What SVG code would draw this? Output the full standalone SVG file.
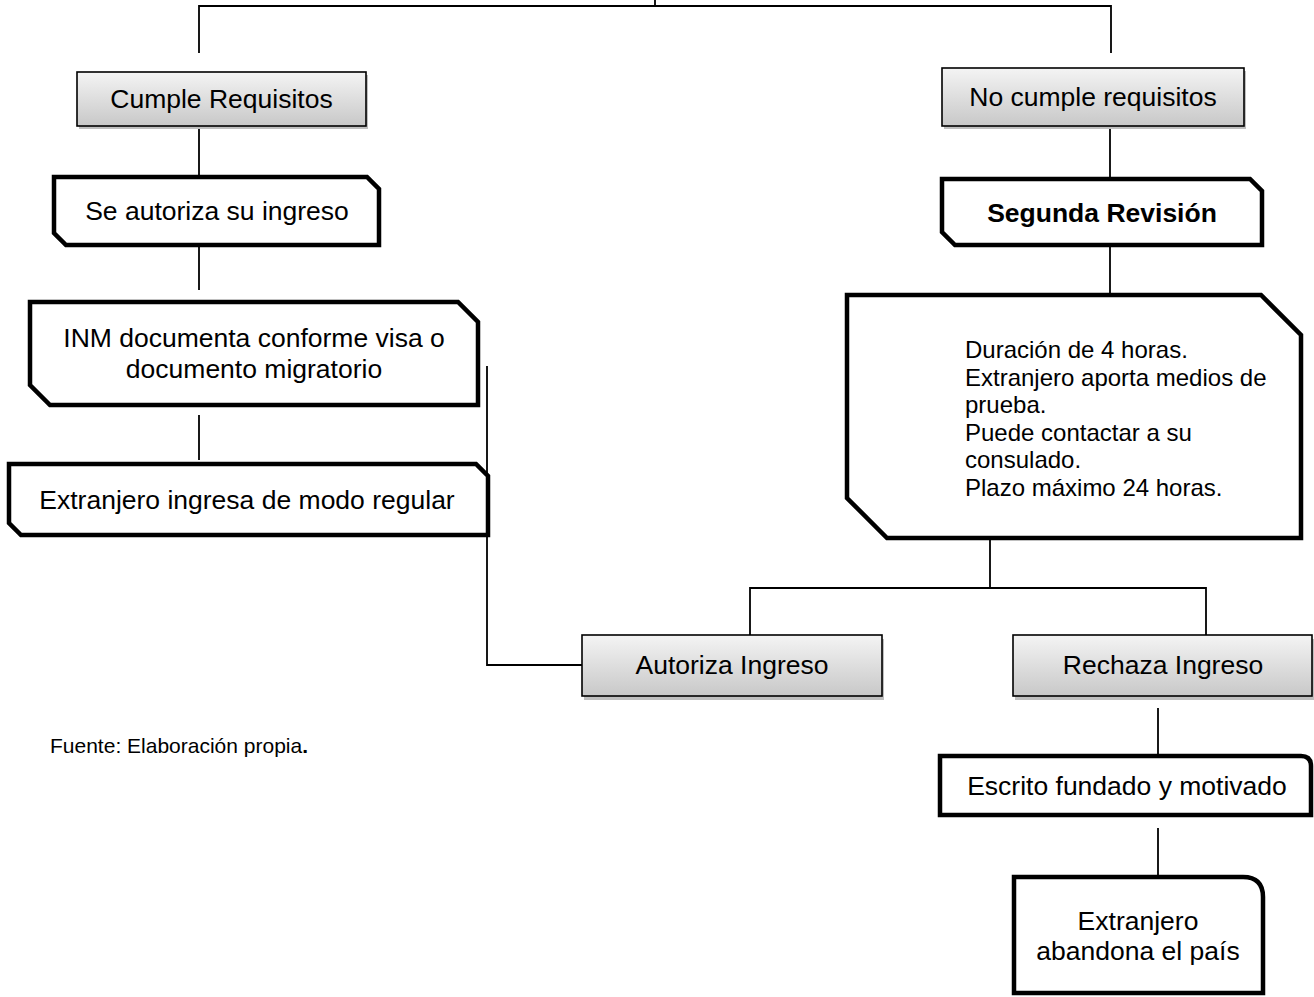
<svg xmlns="http://www.w3.org/2000/svg" width="1314" height="997" viewBox="0 0 1314 997">
<style>
text{font-family:"Liberation Sans",Arial,sans-serif;fill:#000;}
.t{font-size:26.5px;text-anchor:middle;dominant-baseline:central;}
.b{font-weight:bold;}
.s{font-size:24px;}
.g{fill:url(#grad);stroke:#000;stroke-width:1.6;}
.sh{fill:#bfbfbf;}
.k{fill:#fff;stroke:#000;stroke-width:4.5;stroke-linejoin:miter;}
.c{fill:none;stroke:#000;stroke-width:1.8;}
</style>
<defs>
<linearGradient id="grad" x1="0" y1="0" x2="0" y2="1">
<stop offset="0" stop-color="#f4f4f4"/>
<stop offset="1" stop-color="#c8c8c8"/>
</linearGradient>
</defs>
<rect width="1314" height="997" fill="#fff"/>
<g id="connectors">
<path class="c" d="M655,0 V6 M199,53 V6 H1111 V53"/>
<path class="c" d="M199,126 V175"/>
<path class="c" d="M199,247 V290"/>
<path class="c" d="M199,415 V460"/>
<path class="c" d="M1110,126 V177"/>
<path class="c" d="M1110,247 V293"/>
<path class="c" d="M487,366 V665 H582"/>
<path class="c" d="M990,540 V588 M750,635 V588 H1206 V635"/>
<path class="c" d="M1158,708 V754"/>
<path class="c" d="M1158,828 V875"/>
</g>
<g id="cumple">
<rect class="sh" x="79" y="75" width="289" height="54"/>
<rect class="g" x="77" y="72" width="289" height="54"/>
<text class="t" x="221.5" y="99">Cumple Requisitos</text>
</g>
<g id="nocumple">
<rect class="sh" x="944" y="71" width="302" height="58"/>
<rect class="g" x="942" y="68" width="302" height="58"/>
<text class="t" x="1093" y="97">No cumple requisitos</text>
</g>
<g id="seautoriza">
<path class="k" d="M54,177 H367 L379,189 V245 H66 L54,233 Z"/>
<text class="t" x="217" y="211">Se autoriza su ingreso</text>
</g>
<g id="inm">
<path class="k" d="M30,302 H458 L478,322 V405 H50 L30,385 Z"/>
<text class="t" x="254" y="338">INM documenta conforme visa o</text>
<text class="t" x="254" y="369">documento migratorio</text>
</g>
<g id="ingresa">
<path class="k" d="M9,464 H476 L488,476 V535 H21 L9,523 Z"/>
<text class="t" x="247" y="500">Extranjero ingresa de modo regular</text>
</g>
<g id="segunda">
<path class="k" d="M942,179 H1250 L1262,191 V245 H955 L942,232 Z"/>
<text class="t b" x="1102" y="213">Segunda Revisión</text>
</g>
<g id="detalle">
<path class="k" d="M847,295 H1261 L1301,335 V538 H887 L847,498 Z"/>
<text class="s" x="965" y="358">Duración de 4 horas.</text>
<text class="s" x="965" y="386">Extranjero aporta medios de</text>
<text class="s" x="965" y="413">prueba.</text>
<text class="s" x="965" y="441">Puede contactar a su</text>
<text class="s" x="965" y="468">consulado.</text>
<text class="s" x="965" y="496">Plazo máximo 24 horas.</text>
</g>
<g id="autoriza">
<rect class="sh" x="584" y="639" width="300" height="61"/>
<rect class="g" x="582" y="635" width="300" height="61"/>
<text class="t" x="732" y="665">Autoriza Ingreso</text>
</g>
<g id="rechaza">
<rect class="sh" x="1015" y="639" width="299" height="61"/>
<rect class="g" x="1013" y="635" width="299" height="61"/>
<text class="t" x="1163" y="665">Rechaza Ingreso</text>
</g>
<g id="escrito">
<path class="k" d="M940,756 H1301 Q1311,756 1311,766 V815 H940 Z"/>
<text class="t" x="1127" y="786">Escrito fundado y motivado</text>
</g>
<g id="abandona">
<path class="k" d="M1014,877 H1243 Q1263,877 1263,897 V993 H1014 Z"/>
<text class="t" x="1138" y="921">Extranjero</text>
<text class="t" x="1138" y="951">abandona el país</text>
</g>
<g id="fuente">
<text x="50" y="753" style="font-size:21px">Fuente: Elaboración propia<tspan font-weight="bold">.</tspan></text>
</g>
</svg>
